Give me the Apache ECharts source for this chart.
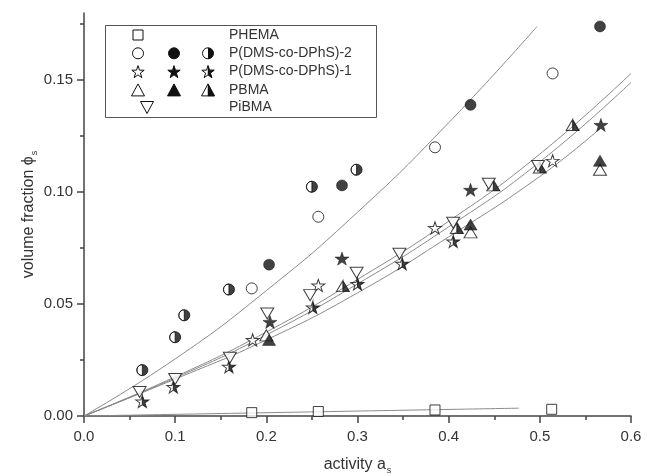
<!DOCTYPE html>
<html>
<head>
<meta charset="utf-8">
<script src="https://cdn.jsdelivr.net/npm/echarts@6/dist/echarts.min.js"></script>
<style>
  html, body { margin: 0; padding: 0; background: #fff; }
  #chart { width: 647px; height: 476px; }
</style>
</head>
<body>
<div id="chart"></div>
<script>
// measured points, [activity, volume fraction]
const phema = [[0.184, 0.0015], [0.257, 0.002], [0.385, 0.0027], [0.513, 0.003]]
const dms2Open = [[0.184, 0.057], [0.257, 0.089], [0.385, 0.120], [0.514, 0.153]]
const dms2Filled = [[0.203, 0.0676], [0.283, 0.103], [0.424, 0.139], [0.566, 0.174]]
const dms2Half = [[0.064, 0.0205], [0.100, 0.0352], [0.110, 0.045], [0.159, 0.0565], [0.250, 0.1024], [0.299, 0.110]]
const dms1Open = [[0.185, 0.034], [0.257, 0.0583], [0.385, 0.084], [0.514, 0.114]]
const dms1Filled = [[0.204, 0.042], [0.283, 0.0703], [0.424, 0.101], [0.567, 0.130]]
const dms1Half = [[0.064, 0.0065], [0.098, 0.013], [0.159, 0.022], [0.251, 0.0485], [0.300, 0.059], [0.349, 0.068], [0.405, 0.078]]
const pbmaOpen = [[0.200, 0.036], [0.424, 0.082], [0.566, 0.110]]
const pbmaFilled = [[0.203, 0.034], [0.424, 0.0855], [0.566, 0.114]]
const pbmaHalf = [[0.284, 0.058], [0.409, 0.084], [0.449, 0.103], [0.500, 0.111], [0.536, 0.130]]
const pibma = [[0.061, 0.0107], [0.100, 0.0165], [0.160, 0.026], [0.201, 0.0458], [0.248, 0.054], [0.299, 0.064], [0.346, 0.0725], [0.405, 0.0863], [0.444, 0.1037], [0.498, 0.1117]]

// fitted curves
const fitDms2 = [[0, 0], [0.1, 0.0255], [0.2, 0.056], [0.3, 0.091], [0.4, 0.131], [0.497, 0.174]]
const fitUpperA = [[0, 0], [0.1, 0.0175], [0.2, 0.0375], [0.3, 0.061], [0.4, 0.087], [0.5, 0.117], [0.6, 0.153]]
const fitUpperB = [[0, 0], [0.1, 0.017], [0.2, 0.0362], [0.3, 0.059], [0.4, 0.0845], [0.5, 0.1135], [0.6, 0.149]]
const fitLower = [[0, 0], [0.1, 0.0165], [0.2, 0.034], [0.3, 0.055], [0.4, 0.080], [0.5, 0.107], [0.565, 0.128]]
const fitPhema = [[0, 0], [0.477, 0.0035]]

const legendLabels = ['PHEMA', 'P(DMS-co-DPhS)-2', 'P(DMS-co-DPhS)-1', 'PBMA', 'PiBMA']
const yMajor = [0, 0.05, 0.10, 0.15]
const yMinor = [0.025, 0.075, 0.125, 0.175]

const FONT = '"Liberation Sans", Arial, "DejaVu Sans", sans-serif'
const INK = '#111'

// symbol outlines in a 20x18 box
const triUpP = [[10, 0], [20, 18], [0, 18]]
const triUpRightP = [[10, 0], [20, 18], [10, 18]]
const triDownP = [[0, 0], [20, 0], [10, 18]]
const starP = [[10, 0], [12.29, 6.84], [19.51, 6.91], [13.71, 11.21], [15.88, 18.09], [10, 13.9],
  [4.12, 18.09], [6.29, 11.21], [0.49, 6.91], [7.71, 6.84]]
const starRightP = starP.slice(0, 6)

const toD = p => 'M' + p.map(q => q.join(',')).join(' L') + ' Z'
const triUpD = toD(triUpP)
const triDownD = toD(triDownP)
const starD = toD(starP)
// half-filled: full outline plus the left half wound the other way, so only the right half fills
const circleHalfD = 'M10,0 A10,10 0 1,1 10,20 A10,10 0 1,1 10,0 Z M10,0 A10,10 0 0,0 10,20 Z'
const triHalfD = triUpD + ' M10,0 L0,18 L10,18 Z'
const starHalfD = starD + ' M10,0 L7.71,6.84 L0.49,6.91 L6.29,11.21 L4.12,18.09 L10,13.9 Z'

function kindStyle(kind) {
  if (kind === 'open') return { color: '#fff', borderColor: INK, borderWidth: 1 }
  if (kind === 'half') return { color: INK, borderColor: INK, borderWidth: 1 }
  return { color: INK, borderColor: INK, borderWidth: 0.6 }
}

function fit(data) {
  return {
    type: 'line', data, smooth: true, symbol: 'none', silent: true,
    lineStyle: { color: '#8a8a8a', width: 1 }, z: 1
  }
}

function pts(name, data, symbol, size, kind) {
  return { name, type: 'scatter', data, symbol, symbolSize: size, itemStyle: kindStyle(kind), z: 3 }
}

// legend key drawn by hand
const rowY = [35, 53.3, 71.6, 89.9, 107.5]
const keys = [
  ['rect', 'open', 138, 0],
  ['circle', 'open', 138, 1], ['circle', 'filled', 174, 1], ['circle', 'half', 208, 1],
  [starP, 'open', 138, 2], [starP, 'filled', 174, 2], [starP, 'half', 208, 2],
  [triUpP, 'open', 138, 3], [triUpP, 'filled', 174, 3], [triUpP, 'half', 208, 3],
  [triDownP, 'open', 147, 4]
]

function place(p, cx, cy) {
  return p.map(([x, y]) => [cx - 6.5 + x * 0.65, cy - 6 + y * 0.667])
}

function keyGraphic([shape, kind, cx, row]) {
  const cy = rowY[row]
  const line = { stroke: INK, lineWidth: 1 }
  const fill = kind === 'open' || kind === 'half' ? '#fff' : INK
  const base = { z: 10, silent: true }
  const out = []
  if (shape === 'rect') {
    out.push({ ...base, type: 'rect', shape: { x: cx - 5, y: cy - 5, width: 10, height: 10 }, style: { ...line, fill } })
  } else if (shape === 'circle') {
    out.push({ ...base, type: 'circle', shape: { cx, cy, r: 5.5 }, style: { ...line, fill } })
    if (kind === 'half') {
      out.push({ ...base, type: 'sector', shape: { cx, cy, r: 5.5, startAngle: -Math.PI / 2, endAngle: Math.PI / 2 }, style: { fill: INK } })
    }
  } else {
    out.push({ ...base, type: 'polygon', shape: { points: place(shape, cx, cy) }, style: { ...line, fill } })
    if (kind === 'half') {
      const right = shape === starP ? starRightP : triUpRightP
      out.push({ ...base, type: 'polygon', shape: { points: place(right, cx, cy) }, style: { fill: INK, stroke: INK, lineWidth: 0.5 } })
    }
  }
  return out
}

const chart = echarts.init(document.getElementById('chart'))

const axisLineStyle = { color: '#444', width: 1.5 }
const nameStyle = {
  fontFamily: FONT, fontSize: 16, color: '#333',
  rich: { sub: { fontFamily: FONT, fontSize: 9, color: '#333', padding: [12, 0, 0, 1] } }
}

const option = {
  animation: false,
  grid: { left: 84, right: 16, top: 13, bottom: 60, outerBoundsMode: 'none' },
  xAxis: {
    type: 'value', min: 0, max: 0.6, interval: 0.1,
    name: 'activity a{sub|s}', nameLocation: 'middle', nameGap: 38, nameMoveOverlap: false,
    nameTextStyle: nameStyle,
    axisLine: { lineStyle: axisLineStyle },
    axisTick: { length: 7, lineStyle: axisLineStyle },
    minorTick: { show: true, splitNumber: 2, length: 4, lineStyle: axisLineStyle },
    splitLine: { show: false },
    axisLabel: { fontFamily: FONT, fontSize: 15, color: '#333', margin: 13, formatter: v => v.toFixed(1) }
  },
  yAxis: [{
    type: 'value', min: 0, max: 0.18,
    name: 'volume fraction ϕ{sub|s}', nameLocation: 'middle', nameGap: 45, nameMoveOverlap: false,
    nameTextStyle: nameStyle,
    axisLine: { show: true, lineStyle: axisLineStyle },
    axisTick: { show: true, length: 7, lineStyle: axisLineStyle, customValues: yMajor },
    splitLine: { show: false },
    axisLabel: { fontFamily: FONT, fontSize: 15, color: '#333', margin: 11, customValues: yMajor, formatter: v => v.toFixed(2) }
  }, {
    type: 'value', min: 0, max: 0.18, position: 'left',
    axisLine: { show: false },
    axisLabel: { show: false },
    splitLine: { show: false },
    axisTick: { show: true, length: 4, lineStyle: axisLineStyle, customValues: yMinor }
  }],
  graphic: [
    {
      type: 'rect', z: 10, silent: true,
      shape: { x: 105.5, y: 25.5, width: 271, height: 92 },
      style: { fill: '#fff', stroke: '#555', lineWidth: 1 }
    },
    ...keys.flatMap(keyGraphic),
    ...legendLabels.map((t, i) => ({
      type: 'text', z: 10, silent: true,
      style: {
        text: t, x: 229, y: rowY[i],
        font: '14px ' + FONT, fill: '#333', verticalAlign: 'middle'
      }
    }))
  ],
  series: [
    fit(fitPhema), fit(fitDms2), fit(fitUpperA), fit(fitUpperB), fit(fitLower),
    pts('PHEMA', phema, 'rect', 10, 'open'),
    pts('DMS2 open', dms2Open, 'circle', 11, 'open'),
    pts('DMS2 filled', dms2Filled, 'circle', 11, 'filled'),
    pts('DMS2 half', dms2Half, 'path://' + circleHalfD, 11, 'half'),
    pts('DMS1 open', dms1Open, 'path://' + starD, [13, 12], 'open'),
    pts('DMS1 filled', dms1Filled, 'path://' + starD, [14, 13], 'filled'),
    pts('DMS1 half', dms1Half, 'path://' + starHalfD, [13, 12], 'half'),
    pts('PBMA open', pbmaOpen, 'path://' + triUpD, [13, 11], 'open'),
    pts('PBMA filled', pbmaFilled, 'path://' + triUpD, [13, 11], 'filled'),
    pts('PBMA half', pbmaHalf, 'path://' + triHalfD, [13, 11], 'half'),
    pts('PiBMA', pibma, 'path://' + triDownD, [13, 11], 'open')
  ]
}

chart.setOption(option)
</script>
</body>
</html>
